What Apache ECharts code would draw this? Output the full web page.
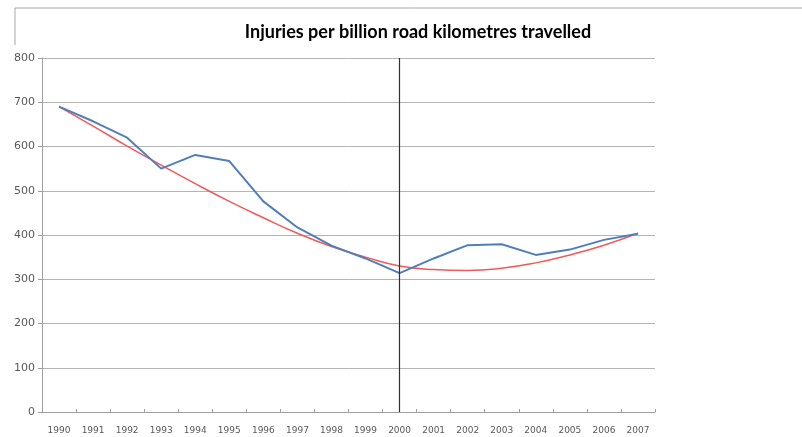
<!DOCTYPE html>
<html>
<head>
<meta charset="utf-8">
<script src="https://cdn.jsdelivr.net/npm/echarts@6/dist/echarts.min.js"></script>
<style>
  html, body { margin: 0; padding: 0; background: #fff; }
  #chart { width: 802px; height: 437px; }
</style>
</head>
<body>
<div id="chart"></div>
<script>
const years = ['1990', '1991', '1992', '1993', '1994', '1995', '1996', '1997', '1998',
  '1999', '2000', '2001', '2002', '2003', '2004', '2005', '2006', '2007']

// injuries per billion km
const injuries = [690, 657, 620, 550, 581, 567, 476, 417, 376, 347, 314, 347, 377, 379, 355, 367, 389, 403]

// trend line (red)
const trend = [690, 646, 601, 558, 516, 476, 439, 404, 374, 350, 330, 322, 320, 325, 337, 355, 377, 404]

const chart = echarts.init(document.getElementById('chart'))

const option = {
  backgroundColor: '#fff',
  animation: false,
  title: {
    text: 'Injuries per billion road kilometres travelled',
    left: 413,
    top: 18,
    textAlign: 'center',
    textStyle: {
      fontFamily: 'Lato',
      fontWeight: 'bold',
      fontSize: 18,
      color: '#000'
    }
  },
  graphic: [{
    type: 'polyline',
    shape: { points: [[15, 45], [15, 8], [802, 8]] },
    style: { stroke: '#a6a6a6', lineWidth: 1, fill: null }
  }],
  grid: {
    left: 42,
    right: 147,
    top: 58,
    bottom: 25
  },
  xAxis: {
    type: 'category',
    data: years,
    boundaryGap: true,
    axisLine: { lineStyle: { color: '#a0a0a0' } },
    axisTick: { show: true, inside: true, length: 3, lineStyle: { color: '#a0a0a0' } },
    axisLabel: {
      color: '#595959',
      fontFamily: 'DejaVu Sans',
      fontSize: 9,
      margin: 14,
      interval: 0
    },
    splitLine: { show: false }
  },
  yAxis: {
    type: 'value',
    min: 0,
    max: 800,
    interval: 100,
    axisLine: { show: true, lineStyle: { color: '#a0a0a0' } },
    axisTick: { show: true, length: 4, lineStyle: { color: '#a0a0a0' } },
    axisLabel: {
      color: '#595959',
      fontFamily: 'DejaVu Sans',
      fontSize: 11,
      margin: 7
    },
    splitLine: { lineStyle: { color: '#b4b4b4', width: 1 } }
  },
  series: [
    {
      name: 'Injuries',
      type: 'line',
      data: injuries,
      symbol: 'none',
      lineStyle: { color: '#4f7fb8', width: 2 },
      z: 3,
      markLine: {
        silent: true,
        symbol: 'none',
        label: { show: false },
        lineStyle: { color: '#303030', width: 1.2, type: 'solid' },
        data: [{ xAxis: '2000' }]
      }
    },
    {
      name: 'Trend',
      type: 'line',
      data: trend,
      symbol: 'none',
      smooth: true,
      lineStyle: { color: '#f05a5a', width: 1.5 },
      z: 2
    }
  ]
}

chart.setOption(option)
</script>
</body>
</html>
